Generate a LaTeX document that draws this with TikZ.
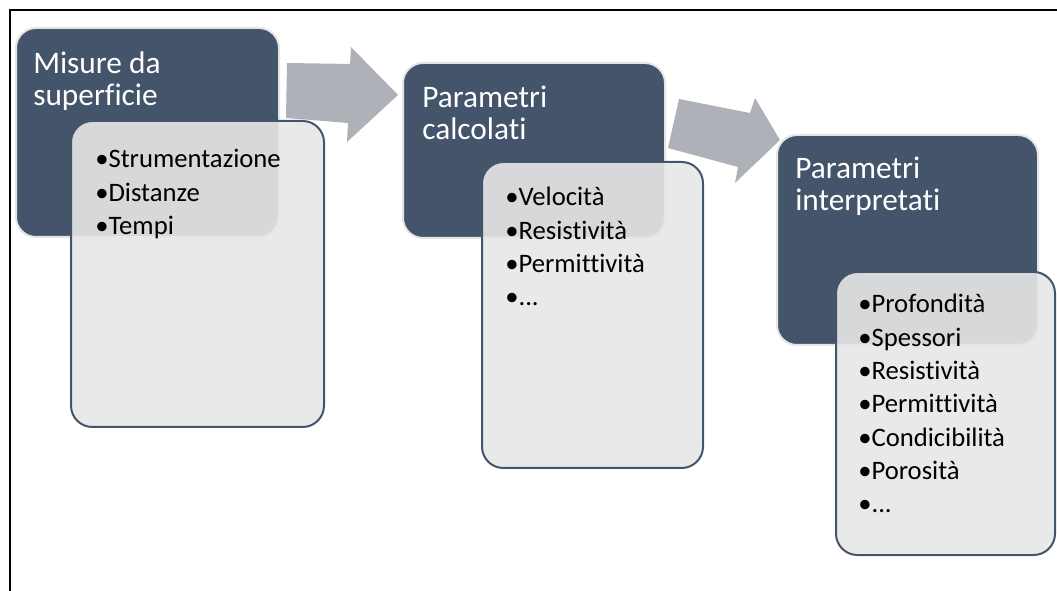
\documentclass[tikz,border=0pt]{standalone}
\usepackage{fontspec}
\setmainfont{Carlito}[Ligatures={NoCommon}]
\definecolor{darkbg}{HTML}{44546A}
\definecolor{lightbg}{HTML}{E7E7E7}
\definecolor{arrowgray}{HTML}{AEB1B8}
\definecolor{glow}{HTML}{E4E4E4}
\newcommand{\blist}[1]{\begin{tabular}[t]{@{}l@{}}#1\end{tabular}}
\begin{document}
\begin{tikzpicture}[x=0.75pt,y=-0.75pt,
  darkbox/.style={fill=darkbg,draw=glow,line width=1.5pt,rounded corners=15pt},
  lightbox/.style={fill=lightbg,fill opacity=0.9,draw=darkbg,draw opacity=1,line width=1.5pt,rounded corners=16pt},
  arrowshape/.style={fill=arrowgray,draw=none},
  frameline/.style={draw=black,line width=1.5pt},
  titletext/.style={anchor=base west,inner sep=0pt,text=white,font=\fontsize{23.5}{24}\selectfont},
  listtext/.style={anchor=base west,inner sep=0pt,text=black,font=\fontsize{20}{25}\selectfont}]
\useasboundingbox (0,0) rectangle (1057,591);
% frame
\draw[frameline] (9.5,600) -- (9.5,10.5) -- (1060,10.5);
% arrows
\fill[arrowshape] (287,63) -- (350,64) -- (351,47) -- (398,95) -- (347,142) -- (348,123) -- (286,118) -- cycle;
\fill[arrowshape] (679,99) -- (750,113) -- (755,98) -- (780,140) -- (735,183) -- (738,167) -- (668,148) -- cycle;
% stage 1
\draw[darkbox] (16,28) rectangle (279,237);
\draw[lightbox] (71,121) rectangle (324,427);
\node[titletext] (t1) at (33,74) {\blist{Misure da\\superficie}};
\node[listtext] (l1) at (95,168) {\blist{•Strumentazione\\•Distanze\\•Tempi}};
% stage 2
\draw[darkbox] (403,63) rectangle (665,238);
\draw[lightbox] (482,162) rectangle (703,468);
\node[titletext] (t2) at (422,108) {\blist{Parametri\\calcolati}};
\node[listtext] (l2) at (505,206) {\blist{•Velocità\\•Resistività\\•Permittività\\•...}};
% stage 3
\draw[darkbox] (777,135) rectangle (1038,345);
\draw[lightbox] (836,272) rectangle (1055,555);
\node[titletext] (t3) at (795,179) {\blist{Parametri\\interpretati}};
\node[listtext] (l3) at (858,313) {\blist{•Profondità\\•Spessori\\•Resistività\\•Permittività\\•Condicibilità\\•Porosità\\•...}};
\end{tikzpicture}
\end{document}
